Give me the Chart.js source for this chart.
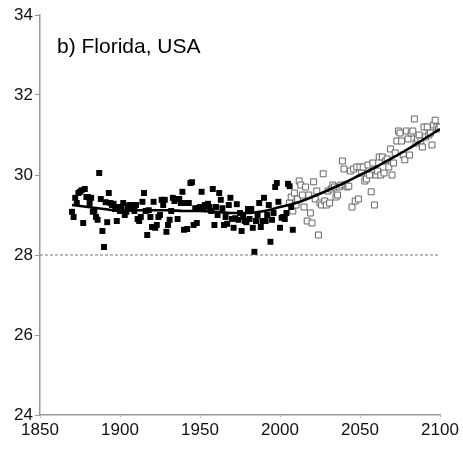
<!DOCTYPE html>
<html>
<head>
<meta charset="utf-8">
<script src="https://cdn.jsdelivr.net/npm/chart.js@4"></script>
<style>
  html, body { margin: 0; padding: 0; background: #fff; }
  #wrap { width: 463px; height: 450px; position: relative; }
</style>
</head>
<body>
<div id="wrap"><canvas id="floridaChart"></canvas></div>
<script>
// observed annual values (filled squares), one per year from 1870
const observedStart = 1870;
const observedValues = [
  29.08, 28.95, 29.43, 29.30, 29.55, 29.58, 29.62, 28.80, 29.65, 29.45,
  29.45, 29.30, 29.43, 29.08, 29.10, 28.95, 28.88, 30.05, 29.40, 28.60,
  28.20, 29.32, 28.82, 29.55, 29.30, 29.25, 29.28, 29.15, 28.85, 29.20,
  29.10, 29.20, 29.30, 29.00, 29.08, 29.22, 29.25, 29.20, 29.25, 29.10,
  29.25, 28.90, 28.85, 28.95, 29.33, 29.55, 29.10, 28.50, 29.12, 28.95,
  28.70, 29.33, 28.68, 28.75, 28.95, 29.00, 29.38, 29.25, 29.38, 28.58,
  28.75, 28.88, 29.10, 29.43, 29.35, 29.40, 28.90, 29.40, 29.30, 29.58,
  28.63, 29.30, 28.65, 29.30, 29.80, 29.82, 28.75, 29.17, 28.80, 29.17,
  29.20, 29.58, 29.20, 29.25, 29.22, 29.28, 29.20, 29.10, 29.65, 28.75,
  29.20, 29.00, 29.55, 29.38, 29.17, 28.75, 28.95, 28.78, 29.25, 29.43,
  28.90, 28.68, 28.92, 29.27, 28.88, 29.05, 28.60, 28.95, 28.85, 28.82,
  29.15, 28.90, 29.15, 28.68, 28.08, 28.85, 29.00, 29.30, 28.70, 28.85,
  29.43, 28.85, 29.00, 29.25, 28.33, 28.88, 29.05, 29.70, 29.80, 29.33,
  28.68, 28.93, 28.95, 28.90, 29.05, 29.78, 29.72, 29.20, 28.63
];

// projected annual values (open squares), one per year from 2006
const projectedStart = 2006;
const projectedValues = [
  29.30, 29.45, 29.10, 29.55, 29.25, 29.40, 29.85, 29.75, 29.50, 29.20,
  29.70, 28.85, 29.50, 29.05, 28.80, 29.83, 29.40, 29.60, 28.50, 29.30,
  29.25, 30.03, 29.35, 29.25, 29.60, 29.30, 29.65, 29.75, 29.70, 29.45,
  29.50, 29.70, 29.75, 30.35, 30.15, 29.75, 29.70, 29.72, 30.10, 29.20,
  30.15, 29.35, 30.20, 29.40, 30.20, 30.05, 30.20, 29.85, 29.90, 30.25,
  30.00, 29.58, 30.30, 29.25, 30.00, 30.10, 30.45, 30.00, 30.45, 30.05,
  30.35, 30.40, 30.20, 30.65, 30.00, 30.30, 30.55, 30.85, 31.10, 31.05,
  30.85, 30.50, 30.38, 31.10, 30.90, 30.50, 31.05, 31.10, 31.40, 30.80,
  30.90, 31.00, 30.85, 30.70, 31.20, 30.95, 31.20, 31.00, 31.05, 30.75,
  31.25, 31.37, 31.20, 31.15, 31.20
];

// smoothed trend
const trendYears  = [1870, 1880, 1890, 1900, 1910, 1920, 1930, 1940, 1950, 1960, 1970, 1980,
                     1990, 2000, 2010, 2020, 2030, 2040, 2050, 2060, 2070, 2080, 2090, 2100];
const trendValues = [29.25, 29.20, 29.15, 29.10, 29.12, 29.12, 29.12, 29.10, 29.10, 29.08, 29.05, 29.05,
                     29.10, 29.20, 29.30, 29.45, 29.62, 29.80, 30.00, 30.20, 30.42, 30.65, 30.90, 31.15];

const thresholdValue = 28;
const xTicks = [1850, 1900, 1950, 2000, 2050, 2100];
const yTicks = [24, 26, 28, 30, 32, 34];

const observedPoints = observedValues.map((v, i) => ({ x: observedStart + i, y: v }));
const projectedPoints = projectedValues.map((v, i) => ({ x: projectedStart + i, y: v }));
const trendPoints = trendYears.map((yr, i) => ({ x: yr, y: trendValues[i] }));
const thresholdPoints = [{ x: xTicks[0], y: thresholdValue }, { x: xTicks[xTicks.length - 1], y: thresholdValue }];

// title drawn inside the plot, top left
const titlePlugin = {
  id: 'cornerTitle',
  afterDraw(chart) {
    const c = chart.ctx;
    c.save();
    c.font = '21px "Liberation Sans", Arial, sans-serif';
    c.fillStyle = '#000';
    c.textBaseline = 'alphabetic';
    c.fillText('b) Florida, USA', chart.chartArea.left + 17, chart.chartArea.top + 38);
    c.restore();
  }
};

const ctx = document.getElementById('floridaChart').getContext('2d');

new Chart(ctx, {
  type: 'scatter',
  data: {
    datasets: [
      {
        label: 'threshold',
        data: thresholdPoints,
        showLine: true,
        borderColor: '#777',
        borderWidth: 1,
        borderDash: [3, 2],
        pointRadius: 0,
        order: 4
      },
      {
        label: 'projected',
        data: projectedPoints,
        pointStyle: 'rect',
        pointRadius: 4.2,
        backgroundColor: '#fff',
        borderColor: '#666',
        borderWidth: 1,
        order: 3
      },
      {
        label: 'observed',
        data: observedPoints,
        pointStyle: 'rect',
        pointRadius: 4.2,
        backgroundColor: '#000',
        borderColor: '#000',
        borderWidth: 0,
        order: 2
      },
      {
        label: 'trend',
        data: trendPoints,
        showLine: true,
        borderColor: '#000',
        borderWidth: 2.6,
        tension: 0.4,
        cubicInterpolationMode: 'monotone',
        pointRadius: 0,
        order: 1
      }
    ]
  },
  options: {
    responsive: true,
    maintainAspectRatio: false,
    animation: false,
    layout: { padding: { top: 15, right: 23, left: 0, bottom: 0 } },
    plugins: {
      legend: { display: false },
      tooltip: { enabled: false }
    },
    scales: {
      x: {
        type: 'linear',
        min: 1850,
        max: 2100,
        afterBuildTicks: axis => { axis.ticks = xTicks.map(v => ({ value: v })); },
        afterFit: axis => { axis.height = 35; },
        border: { color: '#999', width: 1.5 },
        grid: { display: true, drawOnChartArea: false, tickLength: 3, color: '#ccc' },
        ticks: {
          color: '#111',
          padding: 2,
          maxRotation: 0,
          callback: v => String(v),
          font: { family: '"Liberation Sans", Arial, sans-serif', size: 17 }
        }
      },
      y: {
        type: 'linear',
        min: 24,
        max: 34,
        afterBuildTicks: axis => { axis.ticks = yTicks.map(v => ({ value: v })); },
        afterFit: axis => { axis.width = 40; },
        border: { color: '#999', width: 1.5 },
        grid: { display: true, drawOnChartArea: false, tickLength: 5, color: '#999' },
        ticks: {
          color: '#111',
          padding: 2,
          callback: v => String(v),
          font: { family: '"Liberation Sans", Arial, sans-serif', size: 17 }
        }
      }
    }
  },
  plugins: [titlePlugin]
});
</script>
</body>
</html>
